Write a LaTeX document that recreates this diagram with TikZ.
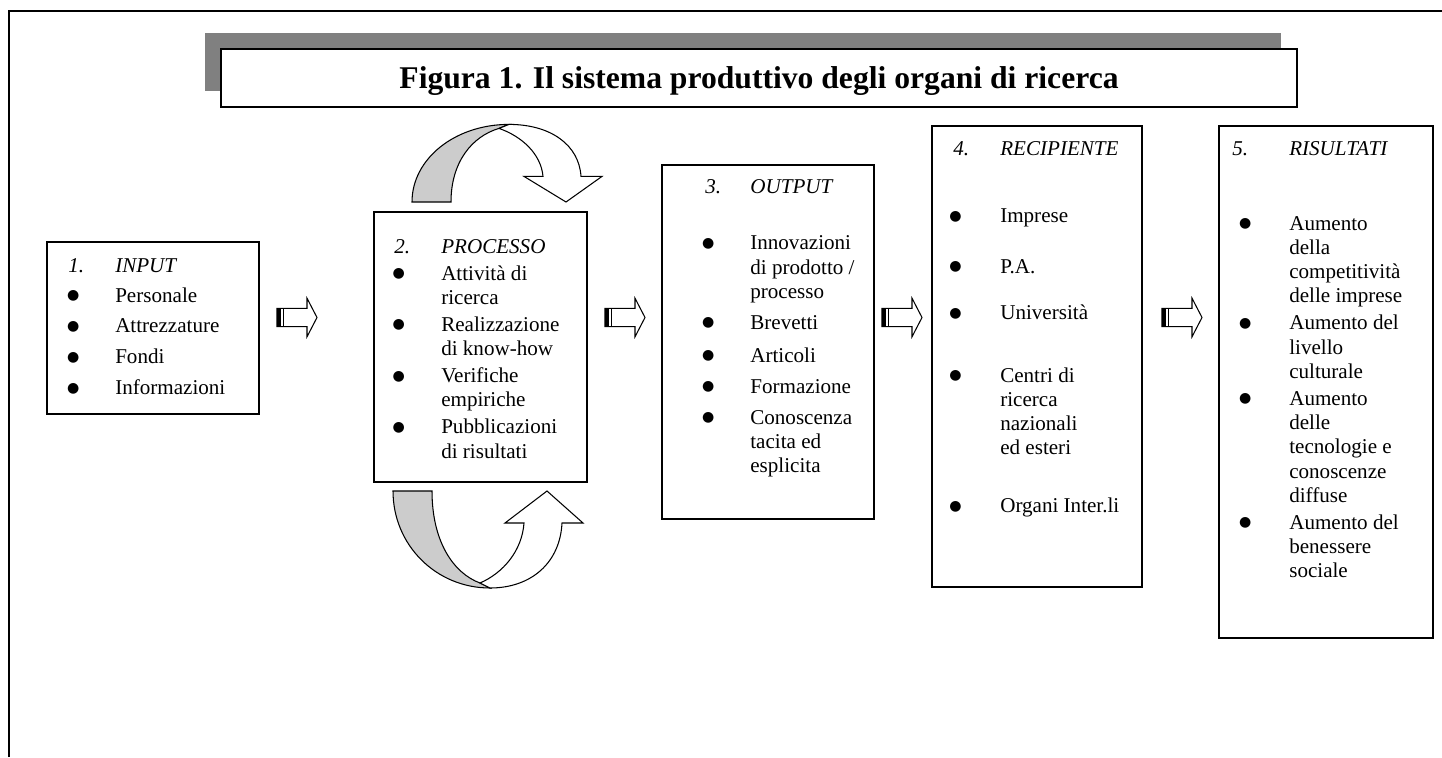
\documentclass[tikz,border=0pt]{standalone}
\usepackage{fontspec}
\setmainfont{Liberation Serif}
\newfontfamily\dotfont{DejaVu Sans}
\usetikzlibrary{fit}

\definecolor{shadowgray}{HTML}{808080}
\definecolor{bandgray}{HTML}{CCCCCC}

\newcommand{\bul}[1]{\makebox[#1][c]{\smash{\raisebox{1.4pt}{\dotfont\fontsize{8}{8}\selectfont ●}}}}

\tikzset{
    box/.style={draw, line width=0.8pt, inner sep=0pt},
    list/.style={anchor=base west, inner sep=0pt, font=\fontsize{12}{13.8}\selectfont},
    ribbon/.pic={
        \filldraw[fill=bandgray, line width=0.6pt] (0,0) -- (39,0) .. controls (39,50) and (60,82) .. (87,92) -- (97,97) .. controls (43,97) and (0,54) .. (0,0) -- cycle;
        \filldraw[fill=white, line width=0.6pt] (87,92) .. controls (110,82) and (129,60) .. (131,32) -- (112,32) -- (154,0) -- (190,32) -- (169,32) .. controls (167,72) and (138,97) .. (97,97) -- cycle;
    },
    blockarrow/.pic={
        \draw[line width=0.6pt] (0,-9.2) -- (30,-9.2) -- (30,-19.3) -- (40,0) -- (30,19.3) -- (30,9.2) -- (0,9.2) -- cycle;
        \fill (0,-9.2) rectangle (4,9.2);
        \draw[line width=0.6pt] (6.5,-9.2) -- (6.5,9.2);
    }
}

\begin{document}
\begin{tikzpicture}[x=0.02cm, y=-0.02cm]
    \useasboundingbox (0,0) rectangle (1442,757);
    \draw[line width=1.1pt] (9,757) -- (9,11) -- (1442,11);

    \fill[shadowgray] (205,33) rectangle (1281,91);
    \node[box, line width=1.1pt, fill=white, fit={(221,49) (1297,107)}] (title) {};
    \node[anchor=base, inner sep=0pt, font=\fontsize{18}{20}\selectfont\bfseries] (titletext) at (759,89) {Figura 1. Il sistema produttivo degli organi di ricerca};

    \node[box, fit={(47,242) (259,414)}] (input) {};
    \node[box, fit={(374,212) (587,482)}] (processo) {};
    \node[box, fit={(662,165) (874,519)}] (output) {};
    \node[box, fit={(932,126) (1142,587)}] (recipiente) {};
    \node[box, fit={(1219,126) (1433,638)}] (risultati) {};

    \node[list] (inputtxt) at (68,272) {\begin{tabular}[t]{@{}p{26.7pt}@{}l@{}}
        \textit{1.} & \textit{INPUT}\\[3.3pt]
        \bul{5.7pt} & Personale\\[3.8pt]
        \bul{5.7pt} & Attrezzature\\[3.8pt]
        \bul{5.7pt} & Fondi\\[3.8pt]
        \bul{5.7pt} & Informazioni
    \end{tabular}};
    \node[list] (processotxt) at (394,253) {\begin{tabular}[t]{@{}p{26.7pt}@{}l@{}}
        \textit{2.} & \textit{PROCESSO}\\[1.6pt]
        \bul{5pt} & Attività di\\
        & ricerca\\[1.6pt]
        \bul{5pt} & Realizzazione\\
        & di know-how\\[1.6pt]
        \bul{5pt} & Verifiche\\
        & empiriche\\[1.6pt]
        \bul{5pt} & Pubblicazioni\\
        & di risultati
    \end{tabular}};
    \node[list] (outputtxt) at (705,193) {\begin{tabular}[t]{@{}p{25.6pt}@{}l@{}}
        \textit{3.} & \textit{OUTPUT}\\[18.6pt]
        \bul{3.4pt} & Innovazioni\\
        & di prodotto /\\
        & processo\\[3.8pt]
        \bul{3.4pt} & Brevetti\\[5pt]
        \bul{3.4pt} & Articoli\\[3.8pt]
        \bul{3.4pt} & Formazione\\[3.8pt]
        \bul{3.4pt} & Conoscenza\\
        & tacita ed\\
        & esplicita
    \end{tabular}};
    \node[list] (recipientetxt) at (953,155) {\begin{tabular}[t]{@{}p{26.7pt}@{}l@{}}
        \textit{4.} & \textit{RECIPIENTE}\\[24.9pt]
        \bul{2.3pt} & Imprese\\[14.7pt]
        \bul{2.3pt} & P.A.\\[12.9pt]
        \bul{2.3pt} & Università\\[21.5pt]
        \bul{2.3pt} & Centri di\\
        & ricerca\\
        & nazionali\\
        & ed esteri\\[19.2pt]
        \bul{2.3pt} & Organi Inter.li
    \end{tabular}};
    \node[list] (risultatitxt) at (1232,155) {\begin{tabular}[t]{@{}p{32.4pt}@{}l@{}}
        \textit{5.} & \textit{RISULTATI}\\[28.9pt]
        \bul{14.8pt} & Aumento\\
        & della\\
        & competitività\\
        & delle imprese\\[1.6pt]
        \bul{14.8pt} & Aumento del\\
        & livello\\
        & culturale\\[1.6pt]
        \bul{14.8pt} & Aumento\\
        & delle\\
        & tecnologie e\\
        & conoscenze\\
        & diffuse\\[1.6pt]
        \bul{14.8pt} & Aumento del\\
        & benessere\\
        & sociale
    \end{tabular}};

    \pic at (412,202) [yscale=-0.8] {ribbon};
    \pic at (393,491) {ribbon};

    \pic at (277,317.5) {blockarrow};
    \pic at (605,317.5) {blockarrow};
    \pic at (882,317.5) {blockarrow};
    \pic at (1162,317.5) {blockarrow};
\end{tikzpicture}
\end{document}
